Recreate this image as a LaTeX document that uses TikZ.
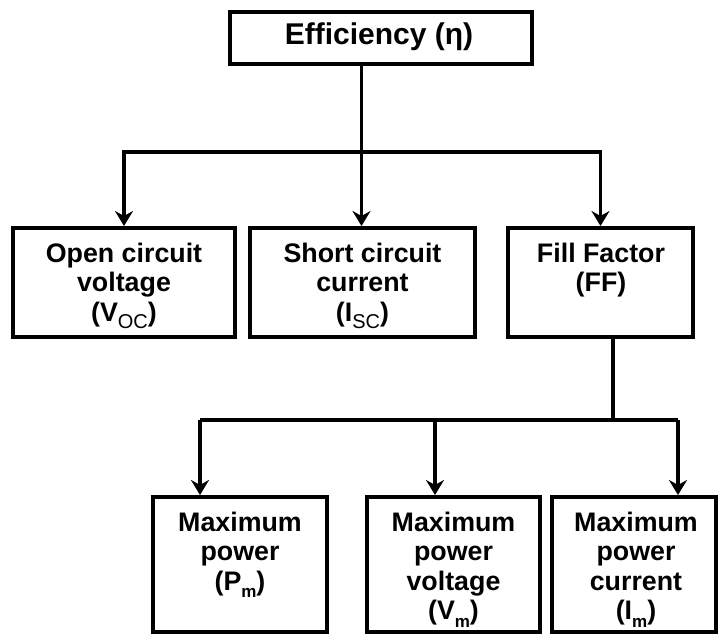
\documentclass[tikz,border=0pt]{standalone}
\usepackage{fontspec}
\setmainfont{Liberation Sans}
\usetikzlibrary{arrows.meta}
\newcommand\mysub[2]{\raisebox{-0.28em}{\fontsize{#1}{#1}\selectfont #2}}
\begin{document}
\begin{tikzpicture}[x=1pt,y=-1pt,
  box/.style={draw=black,line width=4pt,rectangle,inner sep=0pt},
  lbl/.style={align=center,inner sep=0pt,font=\fontsize{26.8}{29.5}\selectfont\bfseries},
  conn/.style={draw=black,line width=3.6pt},
  arr/.style={conn,-{Stealth[length=15pt,width=18pt,inset=5pt]}}]
\useasboundingbox (0,0) rectangle (718,635);
% boxes
\node[box,minimum width=302pt,minimum height=52pt] (eff) at (381,37.5) {};
\node[lbl,font=\fontsize{30}{34}\selectfont\bfseries] (efft) at (379,37) {Efficiency (η)};
\node[box,minimum width=222pt,minimum height=109pt] (voc) at (124,282.5) {};
\node[box,minimum width=225pt,minimum height=109pt] (isc) at (362.5,282.5) {};
\node[box,minimum width=185pt,minimum height=109pt] (ff) at (600.5,282.5) {};
\node[box,minimum width=174pt,minimum height=135pt] (pm) at (240,564.5) {};
\node[box,minimum width=173pt,minimum height=135pt] (vm) at (453.5,564.5) {};
\node[box,minimum width=164pt,minimum height=135pt] (im) at (634,564.5) {};
% labels
\node[lbl,anchor=north] (voct) at (124,242.5) {Open circuit\\voltage\\(V\mysub{20}{\mdseries OC})};
\node[lbl,anchor=north] (isct) at (362.5,242.5) {Short circuit\\current\\(I\mysub{20}{\mdseries SC})};
\node[lbl,anchor=north] (fft) at (601,242.5) {Fill Factor\\(FF)};
\node[lbl,anchor=north] (pmt) at (240,511.5) {Maximum\\power\\(P\mysub{17}{m})};
\node[lbl,anchor=north] (vmt) at (453.5,511.5) {Maximum\\power\\voltage\\(V\mysub{17}{m})};
\node[lbl,anchor=north] (imt) at (636,511.5) {Maximum\\power\\current\\(I\mysub{17}{m})};
% connectors level 1
\coordinate (j1) at (361.5,152);
\draw[conn] (eff.south -| j1) -- (j1);
\draw[arr] (j1) -| (voc.north);
\draw[arr] (j1) -- (isc.north -| j1);
\draw[arr] (j1) -| (ff.north);
% connectors level 2
\coordinate (j2) at (613,420);
\coordinate (a1) at (200,420);
\coordinate (a2) at (435,420);
\coordinate (a3) at (678,420);
\draw[conn] (ff.south -| j2) -- (j2);
\draw[conn] (a1) -- (a3);
\draw[arr] (a1) -- (a1 |- pm.north);
\draw[arr] (a2) -- (a2 |- vm.north);
\draw[arr] (a3) -- (a3 |- im.north);
\end{tikzpicture}
\end{document}
